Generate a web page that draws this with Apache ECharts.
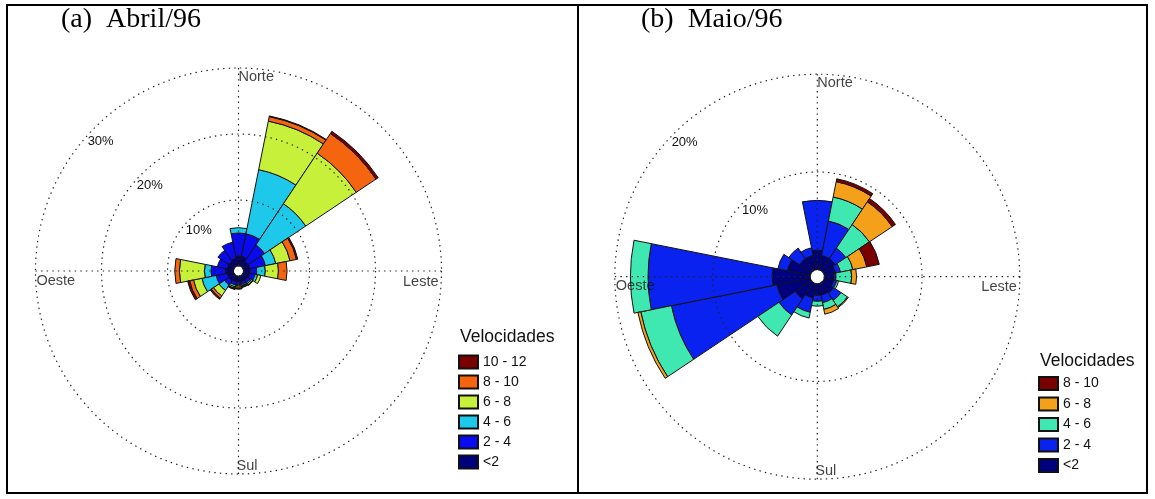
<!DOCTYPE html>
<html>
<head>
<meta charset="utf-8">
<title>Rosa dos ventos — Abril/96 e Maio/96</title>
<script src="https://cdn.jsdelivr.net/npm/echarts@6/dist/echarts.min.js"></script>
<style>
  html, body { margin: 0; padding: 0; background: #fff; }
  #page { position: relative; width: 1155px; height: 499px; overflow: hidden; background: #fff; }
  .panel { position: absolute; top: 0; height: 499px; }
  #chartA { left: 0; width: 578px; }
  #chartB { left: 578px; width: 577px; }
  #frame { position: absolute; left: 6px; top: 4px; width: 1142px; height: 490px; border: 2px solid #000; box-sizing: border-box; pointer-events: none; }
  #divider { position: absolute; left: 577px; top: 4px; width: 2px; height: 490px; background: #000; pointer-events: none; }
</style>
</head>
<body>
<div id="page">
  <div id="chartA" class="panel"></div>
  <div id="chartB" class="panel"></div>
  <div id="frame"></div>
  <div id="divider"></div>
</div>
<script>
// Sixteen compass sectors, clockwise from north
const directions = ['N', 'NNE', 'NE', 'ENE', 'E', 'ESE', 'SE', 'SSE', 'S', 'SSW', 'SW', 'WSW', 'W', 'WNW', 'NW', 'NNW'];

// Cardinal labels and their bearings (degrees clockwise from north)
const compassNames = ['Norte', 'Leste', 'Sul', 'Oeste'];
const compassBearings = [0, 90, 180, 270];

// ---- Abril/96: frequency (%) of each speed class per direction ----
const aprilClasses = ['<2', '2 - 4', '4 - 6', '6 - 8', '8 - 10', '10 - 12'];
const aprilBelow2  = [1.5, 1.5, 1.0, 1.0, 1.0, 1.0, 0.9, 0.9, 0.9, 0.9, 1.0, 1.0, 1.2, 1.0, 1.0, 1.2];
const april2to4    = [3.5, 3.5, 3.0, 2.4, 1.0, 0.8, 0.5, 0.4, 0.4, 0.5, 0.8, 1.7, 2.2, 1.5, 2.0, 2.5];
const april4to6    = [0.8, 9.9, 7.5, 1.6, 1.3, 0.4, 0.2, 0.2, 0.2, 0.3, 1.0, 2.2, 1.0, 0.0, 0.0, 0.0];
const april6to8    = [0.0, 7.5, 9.2, 2.2, 2.0, 0.5, 0.2, 0.1, 0.2, 0.2, 1.0, 1.3, 3.8, 0.0, 0.0, 0.0];
const april8to10   = [0.0, 0.7, 3.6, 1.0, 1.3, 0.0, 0.1, 0.1, 0.2, 0.1, 0.4, 0.6, 0.7, 0.0, 0.0, 0.0];
const april10to12  = [0.0, 0.1, 0.4, 0.2, 0.0, 0.0, 0.0, 0.1, 0.1, 0.1, 0.2, 0.3, 0.0, 0.0, 0.0, 0.0];
const aprilRings   = [0, 10, 20, 30];

// ---- Maio/96: frequency (%) of each speed class per direction ----
const mayClasses = ['<2', '2 - 4', '4 - 6', '6 - 8', '8 - 10'];
const mayBelow2  = [2.0, 1.5, 1.5, 1.2, 1.0, 1.0, 1.3, 1.2, 1.2, 1.5, 2.0, 3.5, 3.9, 2.4, 1.5, 1.5];
const may2to4    = [5.1, 3.6, 1.3, 0.5, 0.2, 0.3, 0.9, 0.8, 0.6, 1.5, 2.0, 11.0, 12.7, 1.0, 1.3, 0.8];
const may4to6    = [0.0, 2.5, 2.9, 1.3, 1.6, 0.2, 0.8, 0.7, 0.5, 0.6, 2.6, 3.2, 1.8, 0.0, 0.0, 0.0];
const may6to8    = [0.0, 1.6, 2.8, 1.45, 0.5, 0.0, 0.1, 0.5, 0.0, 0.0, 0.0, 0.3, 0.0, 0.0, 0.0, 0.0];
const may8to10   = [0.0, 0.3, 0.4, 1.3, 0.0, 0.0, 0.0, 0.0, 0.0, 0.0, 0.0, 0.0, 0.0, 0.0, 0.0, 0.0];
const mayRings   = [0, 10, 20];

const FONT = '"Liberation Sans", Arial, sans-serif';
const SERIF = '"Liberation Serif", "Times New Roman", serif';
const dotted = { color: '#222', width: 1.2, type: [1.4, 4.2] };

function roseOption(p) {
  const max = p.rings[p.rings.length - 1];
  const step = p.rings[1] - p.rings[0];
  const polarBox = { center: p.center, radius: [p.hole, p.outer] };

  const series = p.classes.map((name, i) => ({
    type: 'bar',
    name: name,
    coordinateSystem: 'polar',
    polarIndex: 0,
    stack: 'speed',
    barCategoryGap: '0%',
    data: p.values[i].map(v => (v === 0 ? null : v)),
    itemStyle: { color: p.colors[i], borderColor: '#111', borderWidth: 1 },
    z: 2
  }));

  // Cardinal point names sitting on the outer ring
  const placement = {
    0:   { align: 'left',  verticalAlign: 'top',    offset: [0, 1] },
    90:  { align: 'right', verticalAlign: 'top',    offset: [-3, 3] },
    180: { align: 'left',  verticalAlign: 'bottom', offset: [-2, -1] },
    270: { align: 'left',  verticalAlign: 'top',    offset: [1, 2] }
  };
  series.push({
    type: 'scatter',
    coordinateSystem: 'polar',
    polarIndex: 1,
    symbolSize: 0,
    silent: true,
    z: 12,
    label: { show: true, position: 'inside', formatter: '{b}', fontFamily: FONT, fontSize: 14.5, color: '#111' },
    data: compassNames.map((name, i) => ({
      name: name,
      value: [max, compassBearings[i]],
      label: placement[compassBearings[i]]
    }))
  });

  return {
    animation: false,
    backgroundColor: '#fff',
    title: [
      { text: p.title, left: p.titleLeft, top: 6, padding: 0,
        textStyle: { fontFamily: SERIF, fontSize: 28, fontWeight: 'normal', color: '#000' } },
      { text: 'Velocidades', left: p.legendTitleLeft, top: p.legendTitleTop, padding: 0,
        textStyle: { fontFamily: FONT, fontSize: 17.5, fontWeight: 'normal', color: '#111' } }
    ],
    polar: [polarBox, polarBox, polarBox],
    angleAxis: [
      { polarIndex: 0, type: 'category', data: directions, boundaryGap: true,
        startAngle: 90 + 180 / directions.length, clockwise: true,
        axisLine: { show: false }, axisTick: { show: false }, axisLabel: { show: false }, splitLine: { show: false } },
      { polarIndex: 1, type: 'value', min: 0, max: 360, interval: 90, startAngle: 90, clockwise: true, z: 10,
        axisLine: { show: false }, axisTick: { show: false }, axisLabel: { show: false },
        splitLine: { show: true, lineStyle: dotted } },
      { polarIndex: 2, type: 'value', min: 0, max: 360, startAngle: p.ringLabelAngle, show: false }
    ],
    radiusAxis: [
      { polarIndex: 0, type: 'value', min: 0, max: max, interval: step, z: 10,
        axisLine: { show: false }, axisTick: { show: false }, axisLabel: { show: false },
        splitLine: { show: true, lineStyle: dotted } },
      { polarIndex: 1, type: 'value', min: 0, max: max, show: false },
      { polarIndex: 2, type: 'value', min: 0, max: max, interval: step, z: 10,
        axisLine: { show: false }, axisTick: { show: false }, splitLine: { show: false },
        axisLabel: { show: true, showMinLabel: false, margin: 0, formatter: '{value}%',
          align: 'left', verticalAlign: 'top', fontFamily: FONT, fontSize: 13, color: '#111' } }
    ],
    legend: {
      orient: 'vertical',
      left: p.legendLeft,
      top: p.legendTop,
      padding: 0,
      itemGap: p.legendGap,
      itemWidth: 19,
      itemHeight: 13,
      icon: 'rect',
      selectedMode: false,
      data: p.classes.slice().reverse(),
      textStyle: { fontFamily: FONT, fontSize: 14, color: '#111' }
    },
    series: series
  };
}

const chartA = echarts.init(document.getElementById('chartA'), null, { renderer: 'canvas' });
chartA.setOption(roseOption({
  title: '(a)  Abril/96',
  titleLeft: 61,
  classes: aprilClasses,
  values: [aprilBelow2, april2to4, april4to6, april6to8, april8to10, april10to12],
  colors: ['#00007f', '#0a0af0', '#1ec8ea', '#c6f03a', '#f5640f', '#7a0000'],
  rings: aprilRings,
  ringLabelAngle: 138,
  center: [238.5, 271],
  hole: 5,
  outer: 203,
  legendLeft: 458,
  legendTop: 354.5,
  legendGap: 5,
  legendTitleLeft: 460,
  legendTitleTop: 328
}));

const chartB = echarts.init(document.getElementById('chartB'), null, { renderer: 'canvas' });
chartB.setOption(roseOption({
  title: '(b)  Maio/96',
  titleLeft: 63,
  classes: mayClasses,
  values: [mayBelow2, may2to4, may4to6, may6to8, may8to10],
  colors: ['#00007f', '#0a22f0', '#3fe8b0', '#f5a01a', '#7a0000'],
  rings: mayRings,
  ringLabelAngle: 136,
  center: [239.3, 276.7],
  hole: 7,
  outer: 202.5,
  legendLeft: 460,
  legendTop: 376,
  legendGap: 5.5,
  legendTitleLeft: 462,
  legendTitleTop: 352
}));
</script>
</body>
</html>
